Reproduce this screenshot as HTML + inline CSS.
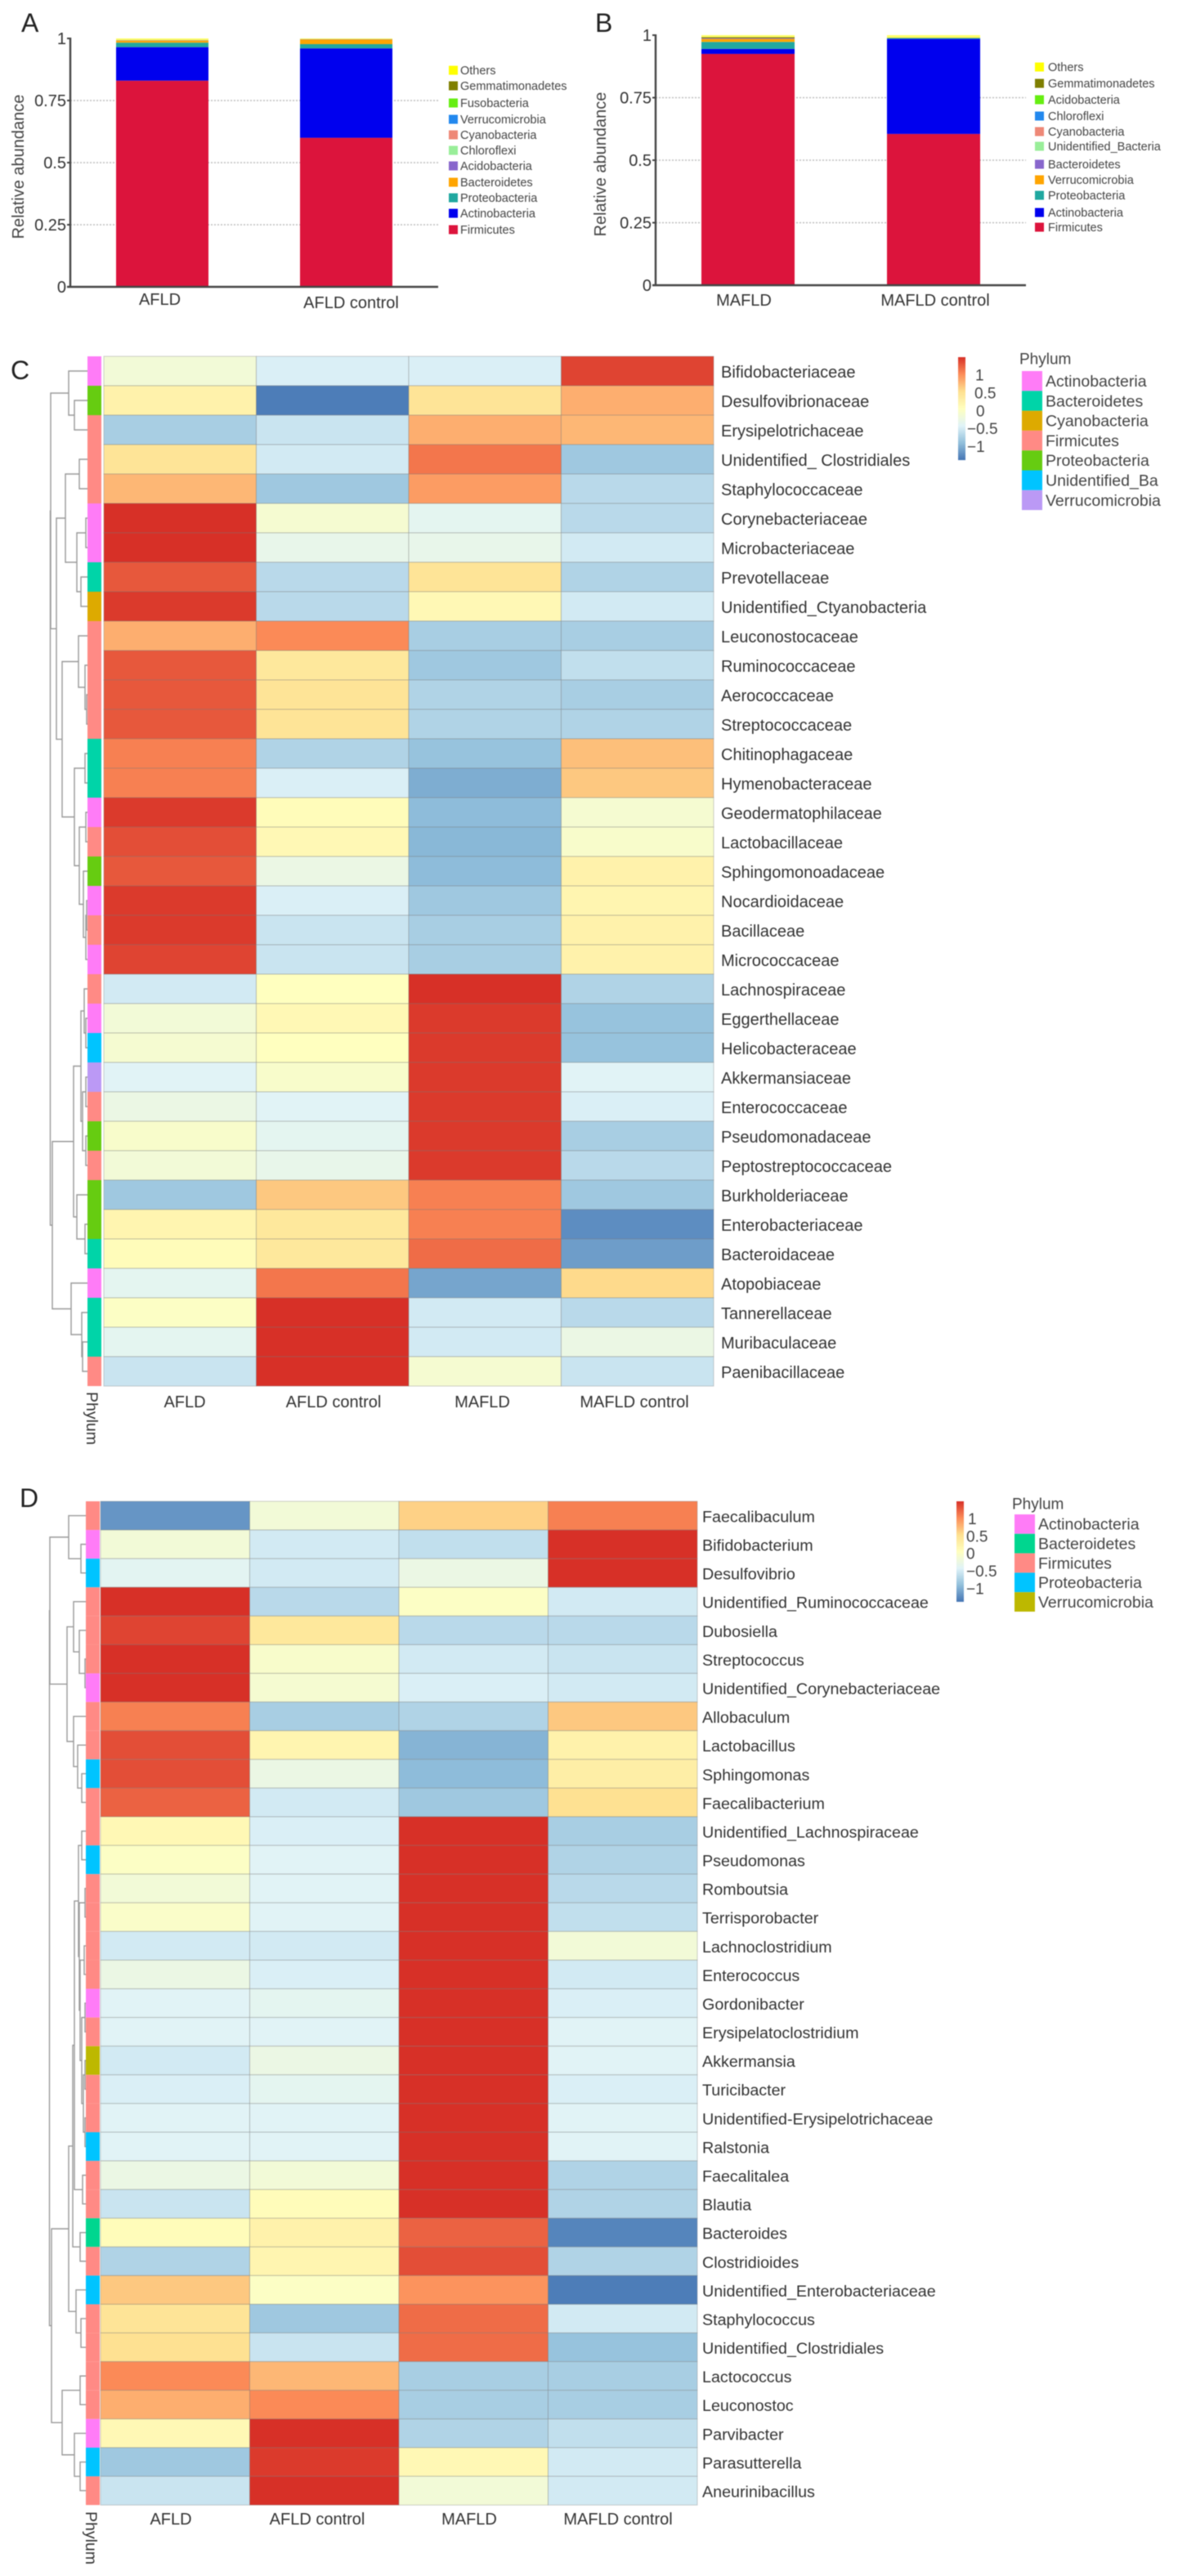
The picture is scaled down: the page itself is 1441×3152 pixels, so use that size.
<!DOCTYPE html>
<html lang="en">
<head>
<meta charset="utf-8">
<title>Gut microbiota relative abundance and heatmaps</title>
<style>
html,body{margin:0;padding:0;background:#fff;}
#figure{display:block;width:1441px;height:3152px;filter:blur(0.5px);font-family:"Liberation Sans",sans-serif;}
</style>
</head>
<body>
<svg id="figure" xmlns="http://www.w3.org/2000/svg" width="1441" height="3152" viewBox="0 0 1441 3152"></svg>
<script>
/* ---------- Panels A and B: stacked bars ---------- */
const aGroups = ['AFLD', 'AFLD control'];
const aSeriesNames = ['Firmicutes', 'Actinobacteria', 'Proteobacteria', 'Bacteroidetes', 'Acidobacteria', 'Chloroflexi', 'Cyanobacteria', 'Verrucomicrobia', 'Fusobacteria', 'Gemmatimonadetes', 'Others'];
const aFirst = [0.83, 0.135, 0.018, 0.008, 0.001, 0, 0, 0, 0, 0.001, 0.007];
const aSecond = [0.60, 0.36, 0.017, 0.018, 0.001, 0, 0, 0, 0, 0.001, 0.003];

const bGroups = ['MAFLD', 'MAFLD control'];
const bSeriesNames = ['Firmicutes', 'Actinobacteria', 'Proteobacteria', 'Verrucomicrobia', 'Bacteroidetes', 'Unidentified_Bacteria', 'Cyanobacteria', 'Chloroflexi', 'Acidobacteria', 'Gemmatimonadetes', 'Others'];
const bFirst = [0.925, 0.02, 0.028, 0.012, 0.003, 0, 0, 0, 0, 0.004, 0.008];
const bSecond = [0.605, 0.38, 0.004, 0.001, 0, 0, 0, 0, 0, 0, 0.01];

const stackColors = ['#DC143C', '#0000EE', '#20A8A0', '#FFA500', '#8866CC', '#99EE99', '#EE8877', '#2288EE', '#66EE11', '#7F7F00', '#FFFF66'];
const legendColors = ['#DC143C', '#0000EE', '#20A8A0', '#FFA500', '#8866CC', '#99EE99', '#EE8877', '#2288EE', '#66EE11', '#7F7F00', '#FFFF00'];
const yTicks = [0, 0.25, 0.5, 0.75, 1];
const yTickLabels = ['0', '0.25', '0.5', '0.75', '1'];

/* ---------- Panel C: family heatmap ---------- */
const heatGroups = ['AFLD', 'AFLD control', 'MAFLD', 'MAFLD control'];
const cRows = ['Bifidobacteriaceae', 'Desulfovibrionaceae', 'Erysipelotrichaceae', 'Unidentified_ Clostridiales', 'Staphylococcaceae', 'Corynebacteriaceae', 'Microbacteriaceae', 'Prevotellaceae', 'Unidentified_Ctyanobacteria', 'Leuconostocaceae', 'Ruminococcaceae', 'Aerococcaceae', 'Streptococcaceae', 'Chitinophagaceae', 'Hymenobacteraceae', 'Geodermatophilaceae', 'Lactobacillaceae', 'Sphingomonoadaceae', 'Nocardioidaceae', 'Bacillaceae', 'Micrococcaceae', 'Lachnospiraceae', 'Eggerthellaceae', 'Helicobacteraceae', 'Akkermansiaceae', 'Enterococcaceae', 'Pseudomonadaceae', 'Peptostreptococcaceae', 'Burkholderiaceae', 'Enterobacteriaceae', 'Bacteroidaceae', 'Atopobiaceae', 'Tannerellaceae', 'Muribaculaceae', 'Paenibacillaceae'];
const cValues = [
  [-0.2, -0.5, -0.5, 1.3],
  [0.2, -1.35, 0.4, 0.75],
  [-0.8, -0.6, 0.75, 0.7],
  [0.4, -0.55, 1.05, -0.85],
  [0.7, -0.85, 0.85, -0.7],
  [1.4, -0.15, -0.4, -0.7],
  [1.4, -0.35, -0.35, -0.55],
  [1.2, -0.7, 0.4, -0.75],
  [1.35, -0.7, 0.1, -0.55],
  [0.75, 0.95, -0.8, -0.8],
  [1.2, 0.35, -0.85, -0.65],
  [1.2, 0.4, -0.75, -0.8],
  [1.2, 0.4, -0.75, -0.75],
  [1.0, -0.75, -0.9, 0.65],
  [1.0, -0.5, -1.05, 0.6],
  [1.35, 0.05, -0.95, -0.15],
  [1.25, 0.1, -0.98, -0.1],
  [1.2, -0.3, -0.95, 0.2],
  [1.35, -0.5, -0.85, 0.15],
  [1.35, -0.6, -0.8, 0.2],
  [1.3, -0.6, -0.8, 0.2],
  [-0.55, 0.0, 1.4, -0.75],
  [-0.2, 0.1, 1.35, -0.9],
  [-0.15, 0.0, 1.35, -0.9],
  [-0.45, -0.1, 1.35, -0.45],
  [-0.3, -0.45, 1.35, -0.5],
  [-0.1, -0.4, 1.35, -0.8],
  [-0.2, -0.35, 1.35, -0.7],
  [-0.85, 0.6, 1.0, -0.85],
  [0.15, 0.35, 1.0, -1.25],
  [0.05, 0.35, 1.1, -1.15],
  [-0.4, 1.05, -1.1, 0.5],
  [-0.05, 1.4, -0.55, -0.7],
  [-0.4, 1.4, -0.55, -0.3],
  [-0.6, 1.4, -0.15, -0.6]
];
const cPhylumNames = ['Actinobacteria', 'Bacteroidetes', 'Cyanobacteria', 'Firmicutes', 'Proteobacteria', 'Unidentified_Ba', 'Verrucomicrobia'];
const cPhylumColors = ['#FF7CF7', '#00D4A8', '#DDAA00', '#FF8A85', '#66CC11', '#00C4FF', '#BB99F5'];
const cRowPhylum = [0, 4, 3, 3, 3, 0, 0, 1, 2, 3, 3, 3, 3, 1, 1, 0, 3, 4, 0, 3, 0, 3, 0, 5, 6, 3, 4, 3, 4, 4, 1, 0, 1, 1, 3];
/* merge trees: [merge distance, left, right]; 0 is a leaf */
const cTree = [45.5,
  [45, [23, 0, [16, 0, 0]],
    [38,
      [27, [10, 0, 0], [13, [2, 0, 0], [8, 0, 0]]],
      [31, [11, 0, [3, 0, [1, 0, 0]]],
        [16, [3, 0, 0], [10, [2, 0, 0], [5, 0, [2, [1, 0, 0], 0]]]]]]],
  [43,
    [17, [8, [4, 0, [2, 0, 0]], [6, [2, 0, 0], [2, 0, 0]]], [13, 0, [3, 0, 0]]],
    [20, 0, [7, 0, [6, 0, 0]]]]];

/* ---------- Panel D: genus heatmap ---------- */
const dRows = ['Faecalibaculum', 'Bifidobacterium', 'Desulfovibrio', 'Unidentified_Ruminococcaceae', 'Dubosiella', 'Streptococcus', 'Unidentified_Corynebacteriaceae', 'Allobaculum', 'Lactobacillus', 'Sphingomonas', 'Faecalibacterium', 'Unidentified_Lachnospiraceae', 'Pseudomonas', 'Romboutsia', 'Terrisporobacter', 'Lachnoclostridium', 'Enterococcus', 'Gordonibacter', 'Erysipelatoclostridium', 'Akkermansia', 'Turicibacter', 'Unidentified-Erysipelotrichaceae', 'Ralstonia', 'Faecalitalea', 'Blautia', 'Bacteroides', 'Clostridioides', 'Unidentified_Enterobacteriaceae', 'Staphylococcus', 'Unidentified_Clostridiales', 'Lactococcus', 'Leuconostoc', 'Parvibacter', 'Parasutterella', 'Aneurinibacillus'];
const dValues = [
  [-1.2, -0.2, 0.55, 1.0],
  [-0.2, -0.55, -0.65, 1.4],
  [-0.42, -0.55, -0.3, 1.4],
  [1.4, -0.7, -0.05, -0.55],
  [1.3, 0.35, -0.7, -0.7],
  [1.4, -0.1, -0.55, -0.6],
  [1.4, -0.15, -0.5, -0.55],
  [1.0, -0.8, -0.75, 0.6],
  [1.25, 0.15, -1.0, 0.2],
  [1.25, -0.3, -0.95, 0.25],
  [1.15, -0.55, -0.85, 0.45],
  [0.1, -0.5, 1.4, -0.8],
  [-0.05, -0.45, 1.4, -0.75],
  [-0.2, -0.45, 1.4, -0.7],
  [-0.08, -0.45, 1.4, -0.65],
  [-0.55, -0.55, 1.4, -0.2],
  [-0.3, -0.5, 1.4, -0.55],
  [-0.45, -0.4, 1.4, -0.5],
  [-0.45, -0.45, 1.4, -0.45],
  [-0.55, -0.3, 1.4, -0.45],
  [-0.5, -0.4, 1.4, -0.5],
  [-0.45, -0.45, 1.4, -0.45],
  [-0.45, -0.45, 1.4, -0.45],
  [-0.3, -0.2, 1.4, -0.75],
  [-0.6, 0.05, 1.4, -0.75],
  [0.05, 0.2, 1.15, -1.3],
  [-0.75, 0.15, 1.25, -0.75],
  [0.6, -0.05, 0.9, -1.35],
  [0.4, -0.85, 1.1, -0.55],
  [0.45, -0.6, 1.1, -0.9],
  [0.95, 0.7, -0.8, -0.8],
  [0.75, 0.95, -0.8, -0.8],
  [0.1, 1.4, -0.75, -0.65],
  [-0.85, 1.35, 0.1, -0.55],
  [-0.6, 1.4, -0.2, -0.55]
];
const dPhylumNames = ['Actinobacteria', 'Bacteroidetes', 'Firmicutes', 'Proteobacteria', 'Verrucomicrobia'];
const dPhylumColors = ['#FF7CF7', '#00D68F', '#FF8A85', '#00C4FF', '#BDB800'];
const dRowPhylum = [2, 0, 3, 2, 2, 2, 0, 2, 2, 3, 2, 2, 3, 2, 2, 2, 2, 0, 2, 4, 2, 2, 3, 2, 2, 1, 2, 3, 2, 2, 2, 2, 0, 3, 2];
const dTree = [44.5,
  [44, [21, 0, [6, 0, 0]],
    [23, [15, 0, [8, 0, [1, 0, 0]]], [15, 0, [10, 0, [5, 0, 0]]]]],
  [42,
    [21,
      [16,
        [14,
          [9, [5, 0, 0], [8, [1, 0, 0], [7, [2, 0, 0], [5, [1, 0, 0], [3, [1, 0, 0], [1, 0, 0]]]]]],
          [4, 0, 0]],
        [7, 0, 0]],
      [12, 0, [6, 0, 0]]],
    [29, [7, 0, 0], [14, 0, [7, 0, 0]]]]];

const colorTicks = [1, 0.5, 0, -0.5, -1];
const colorTickLabels = ['1', '0.5', '0', '\u22120.5', '\u22121'];
const rampStops = ['#4575B4', '#91BFDB', '#E0F3F8', '#FFFFBF', '#FEE090', '#FC8D59', '#D73027'];

/* ---------- Drawing ---------- */
const NS = 'http://www.w3.org/2000/svg';
const root = document.getElementById('figure');
function mk(tag, attrs, parent) {
  const el = document.createElementNS(NS, tag);
  for (const k in attrs) el.setAttribute(k, attrs[k]);
  (parent || root).appendChild(el);
  return el;
}
function group(name) {
  const g = mk('g', {});
  
  
  return g;
}
function label(parent, name, x, y, str, size, anchor, fill, rotate) {
  const attrs = {x: x, y: y, 'font-size': size, 'text-anchor': anchor || 'start', fill: fill || '#3a3a3a', dy: '0.35em'};
  if (rotate) attrs.transform = 'rotate(' + rotate + ' ' + x + ' ' + y + ')';
  const t = mk('text', attrs, parent);
  t.textContent = str;
  
  
  return t;
}
function hexToRgb(h) { return [parseInt(h.slice(1, 3), 16), parseInt(h.slice(3, 5), 16), parseInt(h.slice(5, 7), 16)]; }
const COLOR_MIN = -1.4, COLOR_MAX = 1.4;
const BAR_MIN = -1.38, BAR_MAX = 1.5;
function heatColor(v) {
  const t = Math.max(0, Math.min(1, (v - COLOR_MIN) / (COLOR_MAX - COLOR_MIN))) * (rampStops.length - 1);
  const i = Math.min(rampStops.length - 2, Math.floor(t));
  const a = hexToRgb(rampStops[i]), b = hexToRgb(rampStops[i + 1]), f = t - i;
  return 'rgb(' + a.map((c, k) => Math.round(c + (b[k] - c) * f)).join(',') + ')';
}

function drawBars(cfg) {
  const g = group(cfg.name);
  const yScale = v => cfg.y0 + (cfg.y1 - cfg.y0) * v;
  label(g, cfg.name + '-letter', cfg.letterX, cfg.letterY, cfg.letter, 32, 'start', '#222');
  label(g, 'y-axis-title', cfg.titleX, (cfg.y0 + cfg.y1) / 2 + 5, 'Relative abundance', 20, 'middle', '#444', -90);
  yTicks.forEach((v, i) => {
    if (v > 0 && v < 1) {
      const gl = mk('line', {x1: cfg.axisX, x2: cfg.axisEnd, y1: yScale(v), y2: yScale(v), stroke: '#bbb', 'stroke-width': 1.6, 'stroke-dasharray': '2 2'}, g);
      
      
    }
    const tk = mk('line', {x1: cfg.axisX - 4, x2: cfg.axisX, y1: yScale(v), y2: yScale(v), stroke: '#444', 'stroke-width': 2}, g);
    
    
    label(g, 'y-tick-label', cfg.axisX - 5, yScale(v), yTickLabels[i], 20, 'end', '#333');
  });
  cfg.groups.forEach((name, gi) => {
    let sum = 0;
    cfg.values[gi].forEach((v, si) => {
      if (v <= 0) return;
      const r = mk('rect', {x: cfg.barX[gi], width: cfg.barW, y: yScale(sum + v), height: Math.abs(yScale(sum) - yScale(sum + v)), fill: stackColors[si]}, g);
      
      
      sum += v;
    });
    label(g, 'x-tick-label', cfg.barX[gi] + cfg.barW / 2 + cfg.labelDx[gi], cfg.labelY[gi], name, 20, 'middle', '#333');
  });
  const ya = mk('line', {x1: cfg.axisX, x2: cfg.axisX, y1: cfg.y1 - 1, y2: cfg.y0 + 1, stroke: '#444', 'stroke-width': 2.4}, g);
  
  
  const xa = mk('line', {x1: cfg.axisX - 4, x2: cfg.axisEnd, y1: cfg.y0, y2: cfg.y0, stroke: '#444', 'stroke-width': 2.4}, g);
  
  
  cfg.series.forEach((s, i) => {
    const ly = cfg.legendY[i];
    const sw = mk('rect', {x: cfg.legendX, y: ly - 5.5, width: 11, height: 11, fill: legendColors[i]}, g);
    
    
    label(g, 'legend-entry', cfg.legendX + cfg.legendGap, ly, s, 14.5, 'start', '#444');
  });
}

function drawTree(g, tree, stripX, rowTop, rowH) {
  let next = 0;
  const treeX = d => stripX - d;
  function walk(node) {
    if (node === 0) { const y = rowTop + rowH * (next + 0.5); next++; return {x: stripX, y: y}; }
    const a = walk(node[1]), b = walk(node[2]), x = treeX(node[0]);
    const p = mk('path', {d: 'M' + a.x + ' ' + a.y + 'H' + x + 'V' + b.y + 'H' + b.x, fill: 'none', stroke: '#999', 'stroke-width': 1.4}, g);
    
    
    return {x: x, y: (a.y + b.y) / 2};
  }
  walk(tree);
}

function drawHeat(cfg) {
  const g = group(cfg.name);
  label(g, cfg.name + '-letter', cfg.letterX, cfg.letterY, cfg.letter, 32, 'start', '#222');
  drawTree(g, cfg.tree, cfg.stripX, cfg.top, cfg.rowH);
  cfg.rows.forEach((name, r) => {
    const y = cfg.top + r * cfg.rowH;
    const s = mk('rect', {x: cfg.stripX, y: y, width: cfg.stripW, height: cfg.rowH, fill: cfg.phylumColors[cfg.rowPhylum[r]]}, g);
    
    
    cfg.values[r].forEach((v, c) => {
      const cell = mk('rect', {x: cfg.left + c * cfg.colW, y: y, width: cfg.colW, height: cfg.rowH, fill: heatColor(v), stroke: 'rgba(120,120,120,0.35)', 'stroke-width': 1}, g);
      
      
    });
    label(g, 'row-label', cfg.left + 4 * cfg.colW + cfg.labelGap, y + cfg.rowH / 2 + 1, name, cfg.rowFont, 'start', '#333');
  });
  cfg.colLabelX.forEach((x, i) => label(g, 'column-label', x, cfg.colLabelY, heatGroups[i], 20, 'middle', '#333'));
  label(g, 'phylum-axis-label', cfg.phylumLabelX, cfg.phylumLabelY, 'Phylum', 19.5, 'start', '#333', 90);

  /* colour bar */
  const ids = 'grad-' + cfg.letter;
  const defs = mk('defs', {}, g);
  const grad = mk('linearGradient', {id: ids, x1: 0, x2: 0, y1: 1, y2: 0}, defs);
  rampStops.forEach((c, i) => mk('stop', {offset: i / (rampStops.length - 1), 'stop-color': c}, grad));
  const bar = mk('rect', {x: cfg.barX, y: cfg.barTop, width: 9, height: cfg.barH, fill: 'url(#' + ids + ')'}, g);
  
  
  const cy = v => cfg.barTop + cfg.barH * (BAR_MAX - v) / (BAR_MAX - BAR_MIN);
  colorTicks.forEach((v, i) => label(g, 'color-scale-label', cfg.tickX[i], cy(v), colorTickLabels[i], 19, 'start', '#444'));
  label(g, 'phylum-legend-title', cfg.legendTitleX, cfg.legendTitleY, 'Phylum', 19, 'start', '#444');
  cfg.phylumNames.forEach((p, i) => {
    const sw = mk('rect', {x: cfg.swX, y: cfg.swTop + i * cfg.swH, width: 25, height: cfg.swH, fill: cfg.phylumColors[i]}, g);
    
    
    label(g, 'phylum-legend-entry', cfg.swX + 29, cfg.swTop + (i + 0.5) * cfg.swH, p, 19.5, 'start', '#444');
  });
}

drawBars({name: 'panel-a', letter: 'A', letterX: 26, letterY: 28, axisX: 86, axisEnd: 536, y0: 351, y1: 47, titleX: 22,
  groups: aGroups, series: aSeriesNames, values: [aFirst, aSecond], barX: [142, 367], barW: 113, labelDx: [-3, 6], labelY: [366, 370],
  legendX: 549, legendGap: 14, legendY: [281, 261, 242, 223, 203, 184, 165, 146, 126, 105, 86]});
drawBars({name: 'panel-b', letter: 'B', letterX: 728, letterY: 28, axisX: 802, axisEnd: 1255, y0: 349, y1: 43, titleX: 734,
  groups: bGroups, series: bSeriesNames, values: [bFirst, bSecond], barX: [858, 1085], barW: 114, labelDx: [-5, 2], labelY: [367, 367],
  legendX: 1266, legendGap: 16, legendY: [278, 260, 239, 220, 201, 179, 161, 142, 122, 102, 82]});

drawHeat({name: 'panel-c', letter: 'C', letterX: 13, letterY: 453, top: 436, rowH: 36, left: 127, colW: 186.5, stripX: 107, stripW: 17, labelGap: 9, rowFont: 20,
  rows: cRows, values: cValues, tree: cTree, phylumColors: cPhylumColors, phylumNames: cPhylumNames, rowPhylum: cRowPhylum,
  colLabelX: [226, 408, 590, 776], colLabelY: 1715, phylumLabelX: 113, phylumLabelY: 1703,
  barX: 1172, barTop: 437, barH: 126, tickX: [1193, 1192, 1194, 1183, 1183],
  legendTitleX: 1247, legendTitleY: 439, swX: 1250, swTop: 454, swH: 24.3});

drawHeat({name: 'panel-d', letter: 'D', letterX: 24, letterY: 1833, top: 1837, rowH: 35.09, left: 123, colW: 182.5, stripX: 105, stripW: 17, labelGap: 6, rowFont: 19.7,
  rows: dRows, values: dValues, tree: dTree, phylumColors: dPhylumColors, phylumNames: dPhylumNames, rowPhylum: dRowPhylum,
  colLabelX: [209, 388, 574, 756], colLabelY: 3082, phylumLabelX: 112, phylumLabelY: 3073,
  barX: 1170, barTop: 1837, barH: 123, tickX: [1184, 1182, 1182, 1182, 1182],
  legendTitleX: 1238, legendTitleY: 1840, swX: 1241, swTop: 1853, swH: 23.8});
</script>
</body>
</html>
